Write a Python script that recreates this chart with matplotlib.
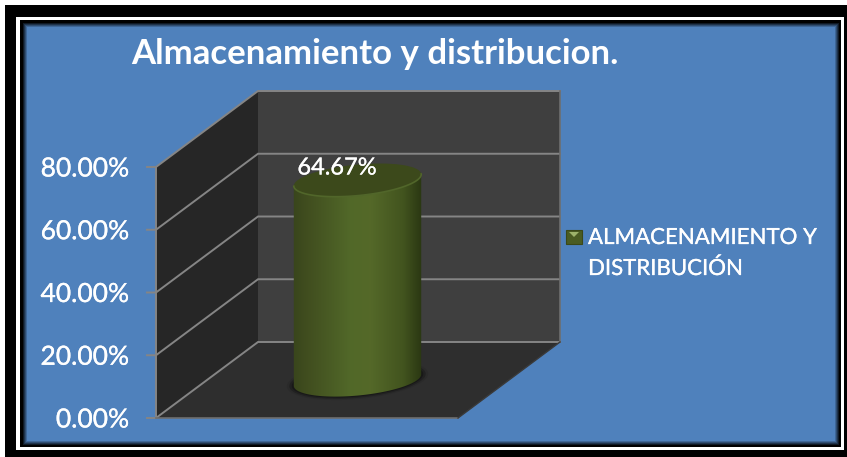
import numpy as np
import matplotlib
matplotlib.use("Agg")
import matplotlib.pyplot as plt
import matplotlib.patheffects as pe
from matplotlib.patches import Ellipse, Polygon, Rectangle, PathPatch
from matplotlib.path import Path

# data
title = "Almacenamiento y distribucion."
legend_lines = ["ALMACENAMIENTO Y", "DISTRIBUCIÓN"]
value_label = "64.67%"
value = 64.67
ticks = [0, 20, 40, 60, 80]
tick_labels = ["0.00%", "20.00%", "40.00%", "60.00%", "80.00%"]

plt.rcParams['font.family'] = ['Lato', 'DejaVu Sans']

fig = plt.figure(figsize=(8.47, 4.57), dpi=100, facecolor='black')
ax = fig.add_axes([0, 0, 1, 1])
ax.set_xlim(0, 847)
ax.set_ylim(457, 0)
ax.axis('off')

# frame
ax.add_patch(Rectangle((0, 0), 847, 5, fc='white', ec='none'))
ax.add_patch(Rectangle((0, 0), 5, 457, fc='white', ec='none'))
ax.add_patch(Rectangle((16, 17), 828, 433, fc='white', ec='none'))
ax.add_patch(Rectangle((20, 20), 821, 427, fc='black', ec='none'))

# panel with dark soft edge
xx = np.arange(22, 840)
yy = np.arange(22, 446)
dist = np.minimum.reduce([
    np.abs(xx[None, :] - 22) * np.ones((len(yy), 1)),
    np.abs(xx[None, :] - 839) * np.ones((len(yy), 1)),
    np.abs(yy[:, None] - 22) * np.ones((1, len(xx))),
    np.abs(yy[:, None] - 445) * np.ones((1, len(xx))),
])
fade = np.clip(dist / 5, 0, 1)[..., None]
panel = np.array([0.31, 0.506, 0.741]) * fade
ax.imshow(panel, extent=(22, 840, 446, 22), aspect='auto', zorder=1,
          interpolation='bilinear')

# 3d box geometry
x0, x1 = 156, 458
y_base = 418
px_per_unit = (418 - 167) / 80
dx, dy = 102, -76


def val_y(v, depth=0.0):
    return y_base - v * px_per_unit + depth * dy


grid_col = '#858585'
ax.add_patch(Polygon([(x0, val_y(0)), (x0 + dx, val_y(0, 1)), (x0 + dx, val_y(80, 1)), (x0, val_y(80))],
                     fc='#262626', ec='none', zorder=2))
ax.add_patch(Polygon([(x0 + dx, val_y(0, 1)), (x1 + dx, val_y(0, 1)), (x1 + dx, val_y(80, 1)), (x0 + dx, val_y(80, 1))],
                     fc='#3f3f3f', ec='none', zorder=2))
ax.add_patch(Polygon([(x0, val_y(0)), (x1, val_y(0)), (x1 + dx, val_y(0, 1)), (x0 + dx, val_y(0, 1))],
                     fc='#2e2e2e', ec='none', zorder=2))

for t in ticks:
    ax.plot([x0 - 9, x0, x0 + dx, x1 + dx], [val_y(t), val_y(t), val_y(t, 1), val_y(t, 1)],
            color=grid_col, lw=1.4, zorder=3, solid_joinstyle='miter')
ax.plot([x0, x0], [val_y(0), val_y(80)], color=grid_col, lw=1.4, zorder=3)
ax.plot([x0, x1], [val_y(0), val_y(0)], color='#6e6e6e', lw=1.2, zorder=3)
ax.plot([x1 + dx, x1 + dx], [val_y(0, 1), val_y(80, 1)], color='#6e6e6e', lw=1.2, zorder=3)
ax.plot([x1, x1 + dx], [val_y(0), val_y(0, 1)], color='#3a3a3a', lw=1, zorder=3)

heavy = [pe.withStroke(linewidth=0.2, foreground='white')]

for t, lab in zip(ticks, tick_labels):
    ax.text(129, val_y(t) + 2, lab, color='white', fontsize=19, ha='right', va='center',
            zorder=6, path_effects=heavy)

# cylinder
cx0, cx1 = 294, 421
cx = (cx0 + cx1) / 2
depth = 0.5
cyl_base = val_y(0, depth)
cyl_top = val_y(value, depth) + 3
ew, eh, tilt = cx1 - cx0 + 1, 31, -5.5

# soft shadow on the floor
for grow, shade in zip([14, 9, 4], ['#2a2a2a', '#212121', '#181818']):
    ax.add_patch(Ellipse((cx, cyl_base), ew + grow, eh + grow * 0.5, angle=tilt, fc=shade, ec='none', zorder=4))


def half_ellipse(yc):
    a = np.linspace(0, np.pi, 60)
    ex = ew / 2 * np.cos(a)
    ey = eh / 2 * np.sin(a)
    th = np.deg2rad(tilt)
    return cx + ex * np.cos(th) - ey * np.sin(th), yc + ex * np.sin(th) + ey * np.cos(th)


bx, by = half_ellipse(cyl_base)
tx, ty = half_ellipse(cyl_top)
verts = list(zip(bx, by)) + list(zip(tx[::-1], ty[::-1])) + [(bx[0], by[0])]
body = PathPatch(Path(verts), fc='none', ec='none', zorder=4)
ax.add_patch(body)
stops_x = [0, 0.1, 0.45, 0.6, 0.85, 1]
stops_c = np.array([[0.22, 0.27, 0.11], [0.25, 0.30, 0.12], [0.32, 0.41, 0.16],
                    [0.33, 0.41, 0.16], [0.26, 0.33, 0.12], [0.16, 0.21, 0.07]])
u = np.linspace(0, 1, 256)
grad = np.stack([np.interp(u, stops_x, stops_c[:, i]) for i in range(3)], axis=-1)[None, ...]
im = ax.imshow(grad, extent=(cx0 - 2, cx1 + 2, cyl_base + 25, cyl_top - 25), aspect='auto', zorder=4.5)
im.set_clip_path(body)
ax.add_patch(Ellipse((cx, cyl_top), ew, eh, angle=tilt, fc='#3c491b', ec='none', zorder=5))
tx2, ty2 = half_ellipse(cyl_top)
ax.plot(tx2, ty2, color='#51662a', lw=1.2, zorder=5.5)

ax.set_xlim(0, 847)
ax.set_ylim(457, 0)

ax.text(337, 168, value_label, color='white', fontsize=17, ha='center', va='center',
        zorder=7, path_effects=heavy)

# legend
ax.add_patch(Rectangle((566, 230), 16, 14, fc='#4a5c22', ec='#3a4818', lw=0.8, zorder=6))
ax.add_patch(Polygon([(569, 232), (579, 232), (574, 237)], fc='#9db36a', ec='none', zorder=7))
ax.text(588, 238, legend_lines[0], color='white', fontsize=16, ha='left', va='center',
        zorder=6, path_effects=heavy)
ax.text(588, 269, legend_lines[1], color='white', fontsize=16, ha='left', va='center',
        zorder=6, path_effects=heavy)

ax.text(375, 54, title, color='white', fontsize=25, fontweight='bold', ha='center', va='center', zorder=6)

fig.savefig('out.png', dpi=100, facecolor=fig.get_facecolor())
